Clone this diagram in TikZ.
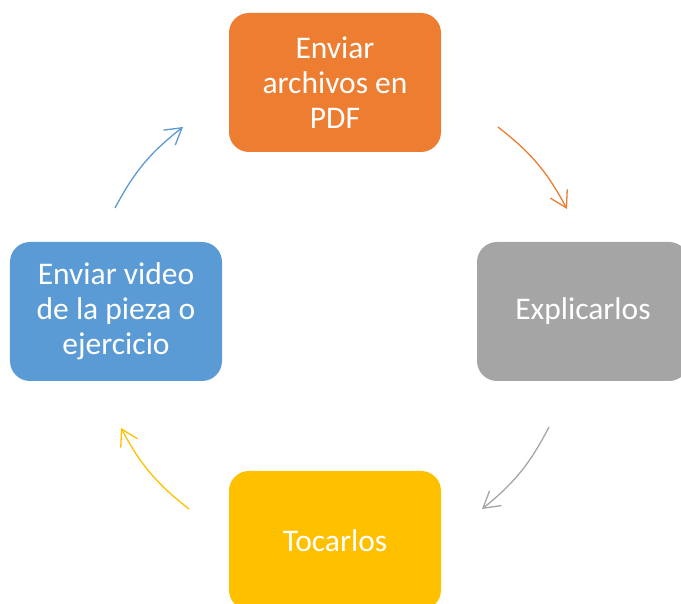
\documentclass[tikz,border=0pt]{standalone}
\usepackage{fontspec}
\setmainfont{Carlito}
\usetikzlibrary{arrows.meta}
\definecolor{cOrange}{HTML}{ED7D31}
\definecolor{cGray}{HTML}{A5A5A5}
\definecolor{cYellow}{HTML}{FFC000}
\definecolor{cBlue}{HTML}{5B9BD5}
\tikzset{
  stepbox/.style={rounded corners=20bp, minimum width=212bp, minimum height=139bp,
    inner sep=0pt, text=white, align=center,
    font=\fontsize{31.5bp}{35bp}\selectfont},
  cyc/.style={line width=1.3bp, bend left=12,
    -{Straight Barb[length=16bp,width=19bp,line width=1.3bp]}}
}
\begin{document}
\begin{tikzpicture}[x=1bp,y=1bp]
\useasboundingbox (0,0) rectangle (681,604);
\clip (0,0) rectangle (681,604);
\node[stepbox, fill=cOrange] (pdf) at (335,521.5) {Enviar\\archivos en\\PDF};
\node[stepbox, fill=cGray] (exp) at (583,292.5) {Explicarlos};
\node[stepbox, fill=cYellow] (toc) at (335,63.5) {Tocarlos};
\node[stepbox, fill=cBlue] (vid) at (116,292.5) {Enviar video\\de la pieza o\\ejercicio};
\coordinate (a1) at (498,477);
\coordinate (b1) at (567,395);
\coordinate (a2) at (549,177);
\coordinate (b2) at (482,95);
\coordinate (a3) at (189,95);
\coordinate (b3) at (121,176);
\coordinate (a4) at (115,396);
\coordinate (b4) at (183,477);
\draw[cyc, cOrange] (a1) to (b1);
\draw[cyc, cGray] (a2) to (b2);
\draw[cyc, cYellow] (a3) to (b3);
\draw[cyc, cBlue] (a4) to (b4);
\end{tikzpicture}
\end{document}
